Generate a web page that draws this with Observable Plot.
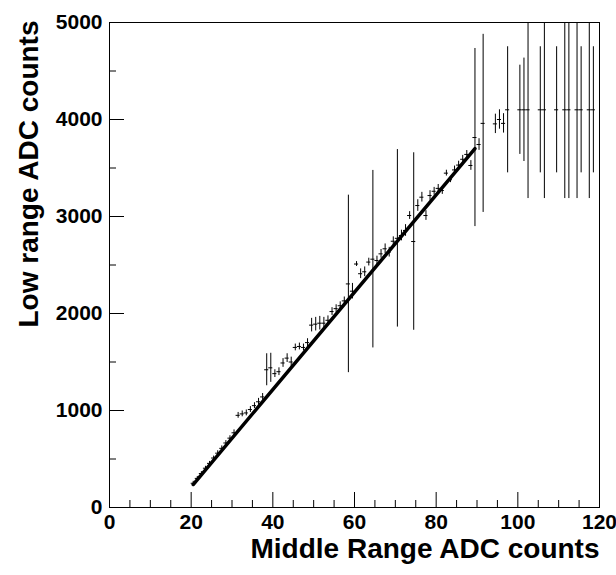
<!DOCTYPE html>
<html><head><meta charset="utf-8">
<script src="https://cdn.jsdelivr.net/npm/d3@7"></script>
<script src="https://cdn.jsdelivr.net/npm/@observablehq/plot@0.6"></script>
<style>body{margin:0;background:#fff}</style>
</head><body><div id="chart"></div>
<script>
// ---- data ----
const xVals = [20.5,21.5,22.5,23.5,24.5,25.5,26.5,27.5,28.5,29.5,
  30.5,31.5,32.5,33.5,34.5,35.5,36.5,37.5,38.5,39.5,
  40.5,41.5,42.5,43.5,44.5,45.5,46.5,47.5,48.5,49.5,
  50.5,51.5,52.5,53.5,54.5,55.5,56.5,57.5,58.5,59.5,
  60.5,61.5,62.5,63.5,64.5,65.5,66.5,67.5,68.5,69.5,
  70.5,71.5,72.5,73.5,74.5,75.5,76.5,77.5,78.5,79.5,
  80.5,81.5,82.5,83.5,84.5,85.5,86.5,87.5,88.5,
  89.5,90.5,91.5,94.5,95.5,96.5,97.5,100.5,101.5,102.5,
  105.5,106.5,109.5,111.5,112.5,114.5,115.5,117.5,118.5];
const yVals = [250,300,350,405,455,510,560,610,665,715,
  770,950,965,975,1010,1050,1090,1140,1420,1440,
  1380,1400,1490,1540,1500,1650,1660,1650,1700,1880,
  1890,1900,1900,1930,2020,2050,2080,2130,2305,2230,
  2510,2410,2430,2530,2560,2546,2615,2667,2632,2745,
  2775,2804,2856,3010,2742,3113,3199,3010,3216,3260,
  3290,3268,3447,3379,3480,3530,3590,3640,3526,
  3814,3742,3960,3955,4000,3960,4100,4100,4100,4100,
  4100,4100,4100,4100,4100,4100,4100,4100,4100];
const yErrs = [20,20,20,20,20,20,25,25,25,25,
  30,30,30,30,30,30,35,35,165,150,
  40,40,45,45,50,35,35,35,40,70,
  70,70,60,45,40,40,40,40,915,80,
  25,50,50,40,915,45,45,50,50,45,
  915,55,60,40,915,60,50,50,50,40,
  40,40,30,30,40,40,40,40,50,
  918,60,918,100,100,100,650,460,533,915,
  650,915,650,915,915,915,650,915,650];
const binHalfWidth = 0.5;
const fitX = [20.5, 89.5];
const fitY = [237, 3700];
const xMajor = [0,20,40,60,80,100,120];
const xMinor = [5,10,15,25,30,35,45,50,55,65,70,75,85,90,95,105,110,115];
const yMajor = [0,1000,2000,3000,4000,5000];
const yMinor = [500,1500,2500,3500,4500];
const xTitle = "Middle Range ADC counts";
const yTitle = "Low range ADC counts";

// ---- layout ----
const W = 616, H = 575;
const mL = 109, mR = 17, mT = 22, mB = 68;
const innerH = H - mT - mB, innerW = W - mL - mR;

const pts = xVals.map((x, i) => ({x, y: yVals[i], e: yErrs[i]}));
const fit = fitX.map((x, i) => ({x, y: fitY[i]}));
const font = "'Liberation Sans', Arial, Helvetica, sans-serif";

const chart = Plot.plot({
  width: W, height: H,
  marginLeft: mL, marginRight: mR, marginTop: mT, marginBottom: mB,
  x: {domain: [0, 120]},
  y: {domain: [0, 5000]},
  style: {fontFamily: font, background: "#fff", color: "#000"},
  marks: [
    Plot.frame({stroke: "#000", strokeWidth: 1}),
    Plot.tickX(xMinor, {x: d => d, insetTop: innerH - 7, stroke: "#000"}),
    Plot.tickX(xMajor, {x: d => d, insetTop: innerH - 15, stroke: "#000"}),
    Plot.tickY(yMinor, {y: d => d, insetRight: innerW - 7, stroke: "#000"}),
    Plot.tickY(yMajor, {y: d => d, insetRight: innerW - 15, stroke: "#000"}),
    Plot.axisX({ticks: xMajor, tickSize: 0, tickPadding: 7, fontSize: 21, fontWeight: "bold", label: null, tickFormat: d => String(d)}),
    Plot.axisY({ticks: yMajor, tickSize: 0, tickPadding: 7, fontSize: 21, fontWeight: "bold", label: null, tickFormat: d => String(d)}),
    Plot.ruleX(pts, {x: "x", y1: d => d.y - d.e, y2: d => d.y + d.e, stroke: "#000", strokeWidth: 1, clip: true}),
    Plot.ruleY(pts, {y: "y", x1: d => d.x - binHalfWidth, x2: d => d.x + binHalfWidth, stroke: "#000", strokeWidth: 1, clip: true}),
    Plot.line(fit, {x: "x", y: "y", stroke: "#000", strokeWidth: 3.5}),
    Plot.text([yTitle], {frameAnchor: "top-left", text: d => d, rotate: -90, textAnchor: "end", dx: -91, dy: -2, fontSize: 28, fontWeight: "bold", fill: "#000"}),
    Plot.text([xTitle], {frameAnchor: "bottom-right", text: d => d, textAnchor: "end", dy: 50, fontSize: 28, fontWeight: "bold", fill: "#000"})
  ]
});
document.getElementById("chart").appendChild(chart);
</script>
</body></html>
